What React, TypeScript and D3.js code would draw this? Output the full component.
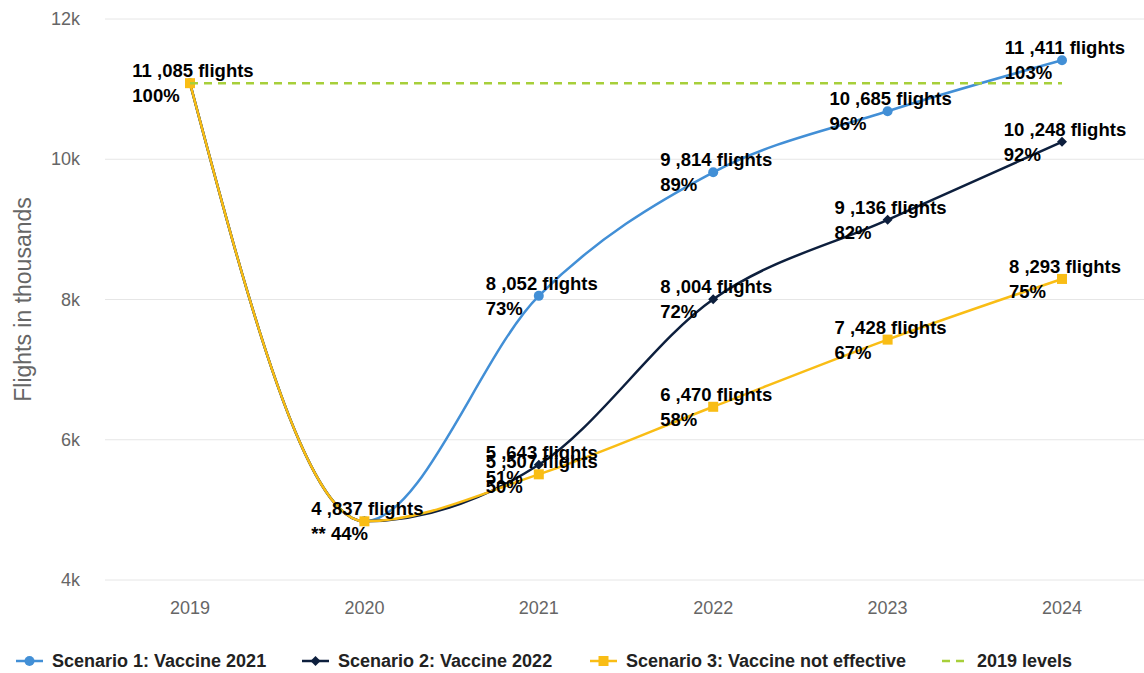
import React, { useEffect, useRef } from "react";
import * as d3 from "d3";

const years = ["2019", "2020", "2021", "2022", "2023", "2024"];
const scenario1 = [11085, 4837, 8052, 9814, 10685, 11411];
const scenario2 = [11085, 4837, 5643, 8004, 9136, 10248];
const scenario3 = [11085, 4837, 5507, 6470, 7428, 8293];
const pct1 = ["100%", "** 44%", "73%", "89%", "96%", "103%"];
const pct2 = ["100%", "** 44%", "51%", "72%", "82%", "92%"];
const pct3 = ["100%", "** 44%", "50%", "58%", "67%", "75%"];
const level2019 = 11085;
const yTicks = [4000, 6000, 8000, 10000, 12000];
const seriesNames = [
  "Scenario 1: Vaccine 2021",
  "Scenario 2: Vaccine 2022",
  "Scenario 3: Vaccine not effective",
  "2019 levels",
];

const W = 1144;
const H = 673;
const BLUE = "#428fd6";
const NAVY = "#0d1f3d";
const YELLOW = "#f9bd15";
const GREEN = "#a7cf3a";
const GREY = "#666666";

export default function App() {
  const ref = useRef<SVGSVGElement | null>(null);

  useEffect(() => {
    const svg = d3.select(ref.current);
    svg.selectAll("*").remove();

    const x = d3.scalePoint<string>().domain(years).range([190, 1062]);
    const y = d3.scaleLinear().domain([4000, 12000]).range([580, 19]);

    const font = "'Liberation Sans', Arial, sans-serif";

    // grid
    svg
      .append("g")
      .selectAll("line")
      .data(yTicks)
      .join("line")
      .attr("x1", 105)
      .attr("x2", W)
      .attr("y1", (d) => y(d))
      .attr("y2", (d) => y(d))
      .attr("stroke", "#e6e6e6")
      .attr("stroke-width", 1);

    svg
      .append("g")
      .selectAll("text")
      .data(yTicks)
      .join("text")
      .attr("x", 80)
      .attr("y", (d) => y(d) + 6)
      .attr("text-anchor", "end")
      .attr("font-family", font)
      .attr("font-size", 18)
      .attr("fill", GREY)
      .text((d) => d / 1000 + "k");

    svg
      .append("g")
      .selectAll("text")
      .data(years)
      .join("text")
      .attr("x", (d) => x(d)!)
      .attr("y", 614)
      .attr("text-anchor", "middle")
      .attr("font-family", font)
      .attr("font-size", 18)
      .attr("fill", GREY)
      .text((d) => d);

    svg
      .append("text")
      .attr("transform", `translate(31,${(y(4000) + y(12000)) / 2}) rotate(-90)`)
      .attr("text-anchor", "middle")
      .attr("font-family", font)
      .attr("font-size", 23)
      .attr("fill", GREY)
      .text("Flights in thousands");

    const line = d3
      .line<number>()
      .x((_, i) => x(years[i])!)
      .y((d) => y(d))
      .curve(d3.curveMonotoneX);

    const series = [
      { vals: scenario1, color: BLUE, marker: "circle" },
      { vals: scenario2, color: NAVY, marker: "diamond" },
      { vals: scenario3, color: YELLOW, marker: "square" },
    ];

    const drawMarker = (g: any, cx: number, cy: number, kind: string, color: string) => {
      if (kind === "circle") {
        g.append("circle").attr("cx", cx).attr("cy", cy).attr("r", 5).attr("fill", color);
      } else if (kind === "diamond") {
        g.append("path")
          .attr("d", `M${cx},${cy - 5}L${cx + 5},${cy}L${cx},${cy + 5}L${cx - 5},${cy}Z`)
          .attr("fill", color);
      } else {
        g.append("rect")
          .attr("x", cx - 5)
          .attr("y", cy - 5)
          .attr("width", 10)
          .attr("height", 10)
          .attr("fill", color);
      }
    };

    series.forEach((s) => {
      const g = svg.append("g");
      g.append("path")
        .attr("d", line(s.vals))
        .attr("fill", "none")
        .attr("stroke", s.color)
        .attr("stroke-width", 2.5);
      s.vals.forEach((v, i) => drawMarker(g, x(years[i])!, y(v), s.marker, s.color));
    });

    svg
      .append("line")
      .attr("x1", x(years[0])!)
      .attr("x2", x(years[years.length - 1])!)
      .attr("y1", y(level2019))
      .attr("y2", y(level2019))
      .attr("stroke", GREEN)
      .attr("stroke-width", 2.5)
      .attr("stroke-dasharray", "8,6");

    // data labels
    const fmt = (v: number) => {
      const th = Math.floor(v / 1000);
      const rest = String(v % 1000).padStart(3, "0");
      return `${th} ,${rest} flights`;
    };
    const labelG = svg.append("g");
    const addLabel = (v: number, i: number, p: string) => {
      const px = x(years[i])!;
      const py = y(v);
      const t = labelG
        .append("text")
        .attr("font-family", font)
        .attr("font-weight", "bold")
        .attr("font-size", 18.5)
        .attr("fill", "#000");
      t.append("tspan").attr("x", 0).attr("y", py - 6).text(fmt(v));
      t.append("tspan").attr("x", 0).attr("y", py + 19).text(p);
      const w = (t.node() as SVGTextElement).getBBox().width;
      const left = px + 3 - w / 2;
      t.selectAll("tspan").attr("x", left);
    };
    [scenario1, scenario2, scenario3].forEach((vals, si) => {
      const pcts = [pct1, pct2, pct3][si];
      vals.forEach((v, i) => {
        if (i < 2 && si !== 2) return;
        addLabel(v, i, pcts[i]);
      });
    });

    // legend
    const legX = [16, 302, 590, 942];
    const legY = 661;
    const leg = svg.append("g");
    seriesNames.forEach((name, i) => {
      const x0 = legX[i];
      if (i < 3) {
        const s = series[i];
        leg.append("line")
          .attr("x1", x0).attr("x2", x0 + 27)
          .attr("y1", legY).attr("y2", legY)
          .attr("stroke", s.color).attr("stroke-width", 2.5);
        drawMarker(leg, x0 + 13.5, legY, s.marker, s.color);
      } else {
        leg.append("line")
          .attr("x1", x0).attr("x2", x0 + 24)
          .attr("y1", legY).attr("y2", legY)
          .attr("stroke", GREEN).attr("stroke-width", 2.5)
          .attr("stroke-dasharray", "8,6");
      }
      leg.append("text")
        .attr("x", x0 + (i < 3 ? 36 : 35))
        .attr("y", legY + 6)
        .attr("font-family", font)
        .attr("font-weight", "bold")
        .attr("font-size", 18)
        .attr("fill", "#222")
        .text(name);
    });
  }, []);

  return (
    <svg
      ref={ref}
      width={W}
      height={H}
      style={{ position: "absolute", left: 0, top: 0, background: "#fff" }}
    />
  );
}
